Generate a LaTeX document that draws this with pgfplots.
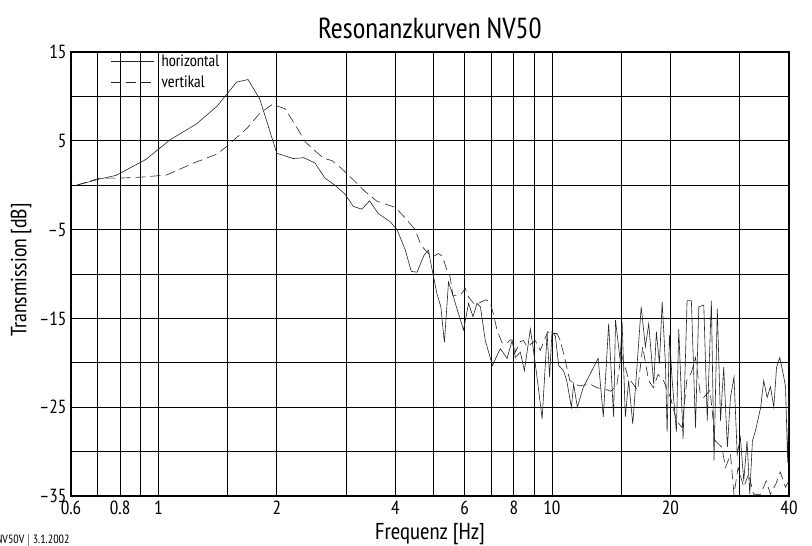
\documentclass[border=0pt]{standalone}
\usepackage{fontspec}
\setmainfont{PT Sans Narrow}
\usepackage{pgfplots}
\pgfplotsset{compat=1.18}
\pgfplotstableread{
f v
0.62 0.0
0.71 0.7
0.78 1.1
0.93 2.9
1.07 5.1
1.25 6.9
1.41 8.9
1.58 11.6
1.69 11.9
1.81 9.7
2.00 3.6
2.20 3.0
2.34 3.1
2.50 2.5
2.65 0.8
2.81 0.0
2.98 -1.0
3.13 -2.4
3.29 -2.7
3.44 -1.75
3.62 -3.2
3.88 -4.1
4.04 -5.0
4.24 -7.3
4.39 -9.7
4.54 -9.8
4.73 -7.9
4.85 -7.3
4.90 -8.3
5.00 -10.3
5.10 -12.2
5.22 -13.7
5.33 -17.7
5.46 -10.9
5.62 -12.6
5.79 -14.5
5.96 -16.3
6.14 -13.3
6.30 -14.8
6.45 -13.3
6.58 -13.7
6.77 -17.5
7.06 -20.3
7.39 -18.4
7.69 -19.5
7.92 -17.5
8.07 -19.4
8.31 -18.8
8.51 -20.9
8.81 -16.2
8.95 -18.2
9.16 -21.6
9.44 -26.3
9.72 -16.7
9.86 -21.6
10.0 -16.5
10.2 -17.0
10.4 -20.3
10.7 -20.9
10.9 -22.0
11.2 -25.0
11.35 -22.4
11.6 -25.0
12.0 -22.8
13.1 -19.5
13.5 -26.1
13.93 -15.6
14.34 -26.1
14.5 -15.2
14.9 -19.7
15.07 -15.4
15.36 -26.1
15.66 -22.0
16.04 -26.9
16.46 -20.1
16.85 -13.7
17.27 -18.2
17.61 -15.6
18.13 -22.4
18.42 -16.5
18.75 -20.1
19.05 -13.1
19.42 -20.1
19.61 -27.8
19.88 -16.9
20.2 -22.0
20.7 -27.8
20.99 -16.2
21.53 -28.6
22.04 -13.0
22.6 -13.0
23.15 -27.3
23.6 -13.7
24.3 -13.5
24.8 -26.5
25.4 -13.0
25.8 -31.0
26.3 -13.9
26.8 -26.5
27.3 -20.5
27.9 -29.5
28.4 -23.9
29.0 -21.6
29.55 -30.3
30.1 -28.4
30.7 -33.3
31.3 -28.8
31.8 -34.8
32.3 -28.8
32.9 -27.6
33.9 -25.0
34.5 -22.0
35.2 -23.9
35.9 -22.7
36.6 -25.0
37.2 -20.5
37.9 -19.4
38.7 -21.3
39.2 -22.7
39.7 -31.2
40.0 -23.1
}\horiz
\pgfplotstableread{
f v
0.62 0.0
0.71 0.8
0.80 0.8
0.90 0.9
1.05 1.15
1.23 2.5
1.41 3.5
1.49 4.35
1.68 6.4
1.81 8.1
1.95 9.1
2.10 8.6
2.27 6.2
2.36 4.9
2.48 4.0
2.63 3.04
2.76 2.77
2.90 2.0
3.10 0.78
3.35 -0.7
3.59 -1.8
4.00 -2.5
4.24 -3.7
4.49 -5.0
4.63 -6.55
4.72 -7.1
4.96 -8.1
5.15 -7.7
5.27 -8.0
5.41 -9.6
5.51 -10.3
5.60 -12.4
5.74 -12.4
5.90 -12.2
6.02 -11.6
6.14 -12.6
6.32 -13.3
6.51 -13.3
6.64 -13.1
6.81 -12.9
6.97 -13.3
7.11 -14.6
7.25 -16.3
7.46 -17.7
7.69 -17.8
7.84 -17.4
7.99 -17.5
8.07 -18.8
8.31 -17.6
8.47 -17.5
8.64 -18.2
9.07 -17.5
9.34 -18.6
9.75 -16.5
9.9 -16.7
10.3 -16.7
10.5 -17.5
10.8 -19.7
11.1 -22.0
11.5 -22.4
11.7 -22.6
12.5 -22.4
13.0 -22.8
13.7 -23.0
14.1 -23.2
14.6 -22.6
15.0 -19.0
15.6 -21.6
16.5 -23.1
17.0 -18.2
17.6 -22.0
18.1 -22.8
18.6 -21.3
19.2 -22.0
20.0 -23.9
20.7 -26.5
21.4 -27.3
22.0 -22.0
22.6 -21.1
23.15 -19.4
23.8 -23.5
24.3 -23.9
25.2 -23.1
26.0 -28.8
27.0 -29.5
27.6 -31.8
28.4 -30.3
29.0 -34.8
29.7 -31.8
30.7 -34.0
31.6 -32.5
32.5 -34.8
33.9 -34.8
35.0 -33.3
35.9 -34.8
37.0 -33.7
38.0 -32.3
39.2 -34.0
40.0 -33.3
}\vert
\begin{document}
\begin{tikzpicture}[x=1pt,y=1pt]
\begin{axis}[
  at={(0pt,0pt)}, anchor=south west,
  width=718pt, height=444pt, scale only axis,
  xmode=log, xmin=0.6, xmax=40, ymin=-35, ymax=15,
  log basis x=10,
  xtick={0.6,0.8,1,2,4,6,8,10,20,40},
  xticklabels={0.6,0.8,1,2,4,6,8,10,20,40},
  minor xtick={0.7,0.9,1.5,3,5,7,9,15,30},
  ytick={-35,-25,-15,-5,5,15},
  yticklabels={–35,–25,–15,–5,5,15},
  minor ytick={-30,-20,-10,0,10},
  grid=both,
  major grid style={black, line width=0.9pt},
  minor grid style={black, line width=0.9pt},
  major tick length=0pt, minor tick length=0pt,
  axis line style={line width=2pt},
  tick label style={font=\fontsize{19}{19}\selectfont},
  xticklabel style={yshift=-1pt},
  yticklabel style={xshift=-1pt},
  legend style={draw=none, fill=none, at={(0.054,0.999)}, anchor=north west,
    font=\fontsize{16.5}{16.5}\selectfont, row sep=6pt, inner sep=1pt,
    nodes={inner xsep=7pt, inner ysep=1pt}},
  legend cell align=left,
  legend image code/.code={\draw[#1] (0pt,0pt) -- (43pt,0pt);},
]
\addplot[black!85, line width=0.6pt] table[x=f,y=v] {\horiz};
\addlegendentry{horizontal}
\addplot[black!85, line width=0.6pt, dash pattern=on 10pt off 5pt] table[x=f,y=v] {\vert};
\addlegendentry{vertikal}
\end{axis}
\node[font=\fontsize{29}{29}\selectfont] at (359,468) {Resonanzkurven NV50};
\node[font=\fontsize{22}{22}\selectfont, rotate=90] at (-50,226) {Transmission [dB]};
\node[font=\fontsize{23}{23}\selectfont] at (359,-38) {Frequenz [Hz]};
\node[font=\fontsize{12}{12}\selectfont, anchor=east] at (2,-45) {NV50V $|$ 3.1.2002};
\pgfresetboundingbox
\useasboundingbox (-71,-50) rectangle (741,496);
\end{tikzpicture}
\end{document}
